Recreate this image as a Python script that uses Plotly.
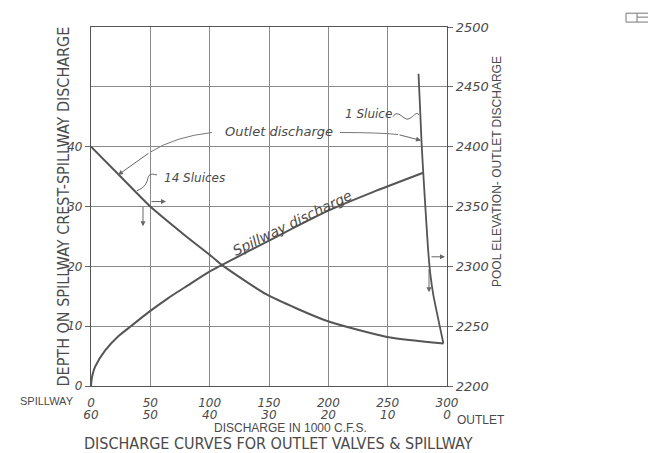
import plotly.graph_objects as go

# ---------------- data ----------------
# Spillway discharge curve: spillway discharge (1000 c.f.s.) vs depth on spillway crest (ft)
spillway_q = [0, 0.4, 1.2, 3.4, 11.8, 23.0, 34.3, 48.3, 65.1, 79.2, 98.8, 110.1, 150, 200, 240, 280]
spillway_depth = [0, 0.9, 1.8, 3.2, 5.9, 8.3, 10.1, 12.3, 14.7, 16.5, 19.0, 20.2, 24.3, 29.3, 32.6, 35.65]

# Outlet discharge, 14 sluices: outlet discharge (1000 c.f.s.) vs pool elevation
sluice14_q = [60, 55.4, 50, 44.2, 39.6, 37.9, 30.4, 20.3, 10.1, 0.6]
sluice14_elev = [2400, 2377, 2350, 2326, 2308, 2301, 2276.5, 2254.5, 2241, 2235.5]

# Outlet discharge, 1 sluice
sluice1_q = [4.8, 4.5, 4.3, 4.0, 3.2, 2.8, 2.3, 0.6]
sluice1_elev = [2461, 2428, 2404.5, 2378, 2315, 2293, 2276, 2235.5]

# tick labels
spillway_ticks = [0, 50, 100, 150, 200, 250, 300]
outlet_ticks = [60, 50, 40, 30, 20, 10, 0]
depth_ticks = [0, 10, 20, 30, 40]
elev_ticks = [2200, 2250, 2300, 2350, 2400, 2450, 2500]

# ---------------- layout helpers ----------------
OFF = 8                      # page body margin of the html page
W, H = 656 - OFF, 453 - OFF  # figure size
L, R, T, B = 91, 447, 22, 386  # plot area in window pixels


def paper(px, py):
    return (px - L) / (R - L), (B - py) / (B - T)


def dat(px, py):
    # window pixel -> (spillway axis, depth axis)
    return (px - L) / (R - L) * 300, (B - py) / (B - T) * 60


INK = "#4a4a4a"
GRID = "#8a8a8a"
HAND = "DejaVu Sans, Liberation Sans, sans-serif"
NARROW = "DejaVu Sans Condensed, Liberation Sans Narrow, Liberation Sans, sans-serif"
PLAIN = "Liberation Sans, Arial, sans-serif"

fig = go.Figure()
fig.add_trace(go.Scatter(x=spillway_q, y=spillway_depth, mode="lines",
                         line=dict(color="#555555", width=2, shape="spline", smoothing=0.8),
                         xaxis="x", yaxis="y", hoverinfo="skip", showlegend=False))
fig.add_trace(go.Scatter(x=sluice14_q, y=sluice14_elev, mode="lines",
                         line=dict(color="#555555", width=2, shape="spline", smoothing=0.6),
                         xaxis="x2", yaxis="y2", hoverinfo="skip", showlegend=False))
fig.add_trace(go.Scatter(x=sluice1_q, y=sluice1_elev, mode="lines",
                         line=dict(color="#555555", width=1.8, shape="spline", smoothing=0.5),
                         xaxis="x2", yaxis="y2", hoverinfo="skip", showlegend=False))

tickfont = dict(family=HAND, size=12, color=INK, style="italic")

fig.update_layout(
    width=W, height=H,
    margin=dict(l=L - OFF, r=W - (R - OFF), t=T - OFF, b=H - (B - OFF), pad=0),
    paper_bgcolor="white", plot_bgcolor="white",
    showlegend=False,
    xaxis=dict(range=[0, 300], tickvals=spillway_ticks, ticktext=[str(v) for v in spillway_ticks],
               showgrid=True, gridcolor=GRID, gridwidth=1, zeroline=False,
               showline=True, linecolor="#555", linewidth=1.2, mirror=True,
               ticks="", ticklabelstandoff=5, tickfont=tickfont),
    xaxis2=dict(range=[60, 0], tickvals=outlet_ticks, ticktext=[str(v) for v in outlet_ticks],
                overlaying="x", side="bottom", anchor="y", showgrid=False, zeroline=False,
                showline=False, ticks="", ticklabelstandoff=20, tickfont=tickfont),
    yaxis=dict(range=[0, 60], tickvals=depth_ticks, ticktext=[str(v) for v in depth_ticks],
               showgrid=False, zeroline=False, showline=True, linecolor="#555", linewidth=1.2,
               ticks="outside", ticklen=5, tickcolor="#666", tickfont=tickfont),
    yaxis2=dict(range=[2200, 2500], tickvals=elev_ticks, ticktext=[str(v) for v in elev_ticks],
                overlaying="y", side="right", anchor="x", showgrid=True, gridcolor=GRID, gridwidth=1,
                zeroline=False, showline=True, linecolor="#555", linewidth=1.2,
                ticks="outside", ticklen=5, tickcolor="#666",
                tickfont=dict(family=HAND, size=13, color=INK, style="italic")),
)

ann = []


def text_paper(txt, px, py, size, family=NARROW, angle=0, style="normal"):
    x, y = paper(px, py)
    ann.append(dict(text=txt, x=x, y=y, xref="paper", yref="paper", showarrow=False,
                    textangle=angle, xanchor="center", yanchor="middle",
                    font=dict(family=family, size=size, color=INK, style=style)))


def text_data(txt, px, py, size, angle=0):
    x, y = dat(px, py)
    ann.append(dict(text=txt, x=x, y=y, xref="x", yref="y", showarrow=False,
                    textangle=angle, xanchor="center", yanchor="middle",
                    font=dict(family=HAND, size=size, color=INK, style="italic")))


def arrow(px0, py0, px1, py1, color="#666"):
    x0, y0 = dat(px0, py0)
    x1, y1 = dat(px1, py1)
    ann.append(dict(text="", x=x1, y=y1, ax=x0, ay=y0, xref="x", yref="y", axref="x", ayref="y",
                    showarrow=True, arrowhead=2, arrowsize=1, arrowwidth=1, arrowcolor=color))


# axis titles and labels
text_paper("DEPTH ON SPILLWAY CREST-SPILLWAY DISCHARGE", 63, 204, 16, angle=-90)
text_paper("POOL ELEVATION- OUTLET DISCHARGE", 497, 169, 12, family=PLAIN, angle=-90)
text_paper("SPILLWAY", 47, 401, 11, family=PLAIN)
text_paper("OUTLET", 481, 420, 12, family=PLAIN)
text_paper("DISCHARGE IN 1000 C.F.S.", 290, 429, 12, family=PLAIN)
text_paper("DISCHARGE CURVES FOR OUTLET VALVES &amp; SPILLWAY", 278, 444, 16)

# in-plot labels
text_data("Outlet discharge", 279, 128, 13)
text_data("14 Sluices", 194, 175, 12)
text_data("1 Sluice", 368, 110, 12)
text_data("Spillway discharge", 292, 221, 14, angle=-26)

# leader arrows
arrow(150, 149, 118, 172)
arrow(398, 131, 421, 137)
arrow(150, 199, 166, 199)
arrow(143, 203, 143, 224)
arrow(430, 255, 445, 255)
arrow(429, 266, 429, 291)

shapes = []


def path_px(points, cmd):
    parts = []
    i = 0
    for c, n in cmd:
        coords = []
        for _ in range(n):
            x, y = dat(*points[i])
            coords.append(f"{x:.3f},{y:.3f}")
            i += 1
        parts.append(c + " " + " ".join(coords))
    return " ".join(parts)


# curved leaders from "Outlet discharge"
shapes.append(dict(type="path", xref="x", yref="y",
                   path=path_px([(212, 129), (175, 133), (150, 149)], [("M", 1), ("Q", 2)]),
                   line=dict(color="#777", width=1)))
shapes.append(dict(type="path", xref="x", yref="y",
                   path=path_px([(340, 129), (380, 129), (398, 131)], [("M", 1), ("Q", 2)]),
                   line=dict(color="#777", width=1)))
# squiggles
shapes.append(dict(type="path", xref="x", yref="y",
                   path=path_px([(157, 172), (142, 168), (154, 181), (137, 188)], [("M", 1), ("C", 3)]),
                   line=dict(color="#666", width=1)))
shapes.append(dict(type="path", xref="x", yref="y",
                   path=path_px([(393, 113), (398, 104), (404, 118), (409, 115), (414, 113), (416, 107), (419, 111)],
                                [("M", 1), ("C", 3), ("C", 3)]),
                   line=dict(color="#666", width=1)))

# small box at top-right corner of the sheet
bx0, by0 = paper(626, 8)
bx1, by1 = paper(655, 17)
shapes.append(dict(type="rect", xref="paper", yref="paper", x0=bx0, y0=by1, x1=bx1, y1=by0,
                   line=dict(color="#777", width=1)))
vx, vy = paper(637, 12)
shapes.append(dict(type="line", xref="paper", yref="paper", x0=vx, y0=by1, x1=vx, y1=by0,
                   line=dict(color="#777", width=1)))
shapes.append(dict(type="line", xref="paper", yref="paper", x0=vx, y0=vy, x1=bx1, y1=vy,
                   line=dict(color="#777", width=1)))

fig.update_layout(annotations=ann, shapes=shapes)
fig.write_html("out.html")
